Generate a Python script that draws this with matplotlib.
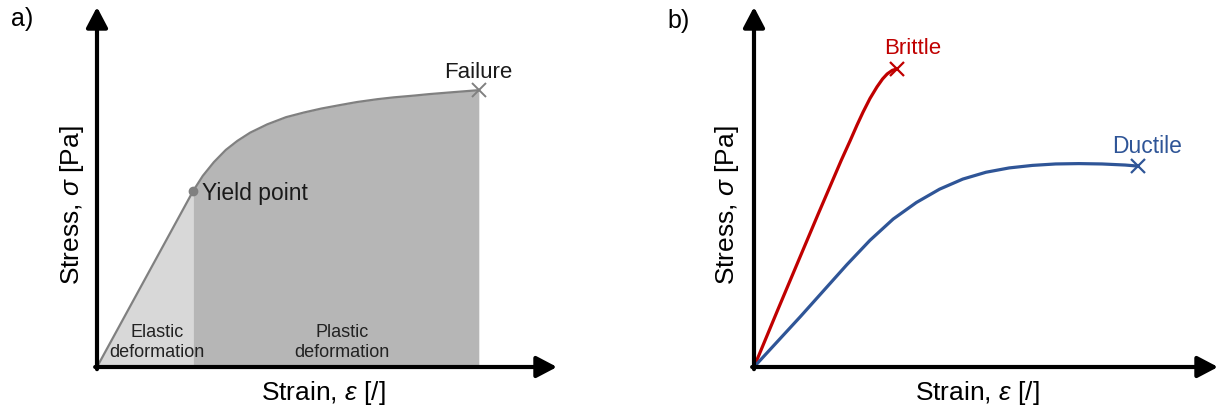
import matplotlib.pyplot as plt
import numpy as np

plt.rcParams['font.family'] = ['Liberation Sans', 'DejaVu Sans']
plt.rcParams['mathtext.fontset'] = 'custom'
plt.rcParams['mathtext.it'] = 'Liberation Sans:italic'
plt.rcParams['mathtext.rm'] = 'Liberation Sans'

# a) generic stress-strain curve (normalised units)
curve_strain = [0.0, 0.209, 0.23, 0.254, 0.28, 0.305, 0.333, 0.37, 0.411, 0.45, 0.488,
                0.53, 0.565, 0.61, 0.645, 0.69, 0.722, 0.78, 0.830]
curve_stress = [0.0, 0.489, 0.531, 0.569, 0.603, 0.628, 0.651, 0.674, 0.694, 0.707, 0.718,
                0.728, 0.736, 0.744, 0.749, 0.754, 0.758, 0.764, 0.769]
yield_idx = 1

# b) brittle vs ductile
brittle_strain = [0.0, 0.05, 0.10, 0.138, 0.165, 0.188, 0.207, 0.222, 0.235, 0.25,
                  0.265, 0.277, 0.287, 0.298, 0.308]
brittle_stress = [0.0, 0.155, 0.308, 0.424, 0.505, 0.574, 0.628, 0.672, 0.708, 0.746,
                  0.778, 0.800, 0.814, 0.824, 0.828]
ductile_strain = [0.0, 0.05, 0.10, 0.15, 0.20, 0.25, 0.30, 0.35, 0.40, 0.45, 0.50,
                  0.55, 0.60, 0.65, 0.70, 0.75, 0.80, 0.828]
ductile_stress = [0.0, 0.070, 0.140, 0.212, 0.284, 0.352, 0.411, 0.457, 0.494, 0.522, 0.541,
                  0.553, 0.560, 0.564, 0.565, 0.564, 0.561, 0.558]

W, H = 1223, 410
fig = plt.figure(figsize=(W / 100, H / 100), dpi=100)

def px_axes(x0, y0, x1, y1):
    # axes from origin (x0, y0) to arrow tips (x1, y1), in image pixels
    ax = fig.add_axes([x0 / W, (H - y0) / H, (x1 - x0) / W, (y0 - y1) / H])
    ax.set_xlim(0, 1)
    ax.set_ylim(0, 1)
    ax.axis('off')
    arrow = dict(arrowstyle='-|>,head_length=0.95,head_width=0.5', color='black',
                 lw=3, shrinkA=0, shrinkB=0, mutation_scale=13)
    ax.annotate('', xy=(1.0, 0), xytext=(-0.004, 0), arrowprops=arrow, annotation_clip=False)
    ax.annotate('', xy=(0, 1.0), xytext=(0, -0.006), arrowprops=arrow, annotation_clip=False)
    return ax

label_kw = dict(fontsize=19, ha='center', va='center')

# ---- panel a
ax = px_axes(97, 368, 557, 8)
xs = np.array(curve_strain)
ys = np.array(curve_stress)
ax.fill_between(xs[:yield_idx + 1], 0, ys[:yield_idx + 1], color='#d8d8d8', lw=0)
ax.fill_between(xs[yield_idx:], 0, ys[yield_idx:], color='#b6b6b6', lw=0)
ax.plot(xs, ys, color='#808080', lw=1.6, solid_capstyle='round', solid_joinstyle='round')
ax.plot(xs[yield_idx], ys[yield_idx], 'o', color='#808080', ms=6)
ax.plot(xs[-1], ys[-1], 'x', color='#808080', ms=10, mew=1.4, clip_on=False)
ax.text(xs[yield_idx] + 0.02, ys[yield_idx] - 0.005, 'Yield point', fontsize=16.5,
        ha='left', va='center', color='#1a1a1a')
ax.text(xs[-1] - 0.002, ys[-1] + 0.053, 'Failure', fontsize=16, ha='center', va='center',
        color='#1a1a1a')
ax.text(0.130, 0.07, 'Elastic\ndeformation', fontsize=13, ha='center', va='center',
        linespacing=1.2, color='#222222')
ax.text(0.532, 0.07, 'Plastic\ndeformation', fontsize=13, ha='center', va='center',
        linespacing=1.2, color='#222222')
ax.text(0.491, -0.069, r'Strain, $\varepsilon$ [/]', **label_kw)
ax.text(-0.055, 0.453, r'Stress, $\sigma$ [Pa]', rotation=90, **label_kw)
fig.text(22 / W, 1 - 19 / H, 'a)', fontsize=18, ha='center', va='center')

# ---- panel b
ax = px_axes(754, 368, 1218, 8)
red, blue = '#c00000', '#2f5597'
ax.plot(brittle_strain, brittle_stress, color=red, lw=2.3, solid_capstyle='round',
        solid_joinstyle='round')
ax.plot(brittle_strain[-1], brittle_stress[-1], 'x', color=red, ms=10, mew=1.6)
ax.plot(ductile_strain, ductile_stress, color=blue, lw=2.3, solid_capstyle='round',
        solid_joinstyle='round')
ax.plot(ductile_strain[-1], ductile_stress[-1], 'x', color=blue, ms=10, mew=1.6)
ax.text(brittle_strain[-1] + 0.034, brittle_stress[-1] + 0.06, 'Brittle', color=red,
        fontsize=16, ha='center', va='center')
ax.text(ductile_strain[-1] + 0.02, ductile_stress[-1] + 0.056, 'Ductile', color=blue,
        fontsize=16.5, ha='center', va='center')
ax.text(0.482, -0.069, r'Strain, $\varepsilon$ [/]', **label_kw)
ax.text(-0.058, 0.453, r'Stress, $\sigma$ [Pa]', rotation=90, **label_kw)
fig.text(679 / W, 1 - 21 / H, 'b)', fontsize=18, ha='center', va='center')

fig.savefig('out.png', dpi=100)
